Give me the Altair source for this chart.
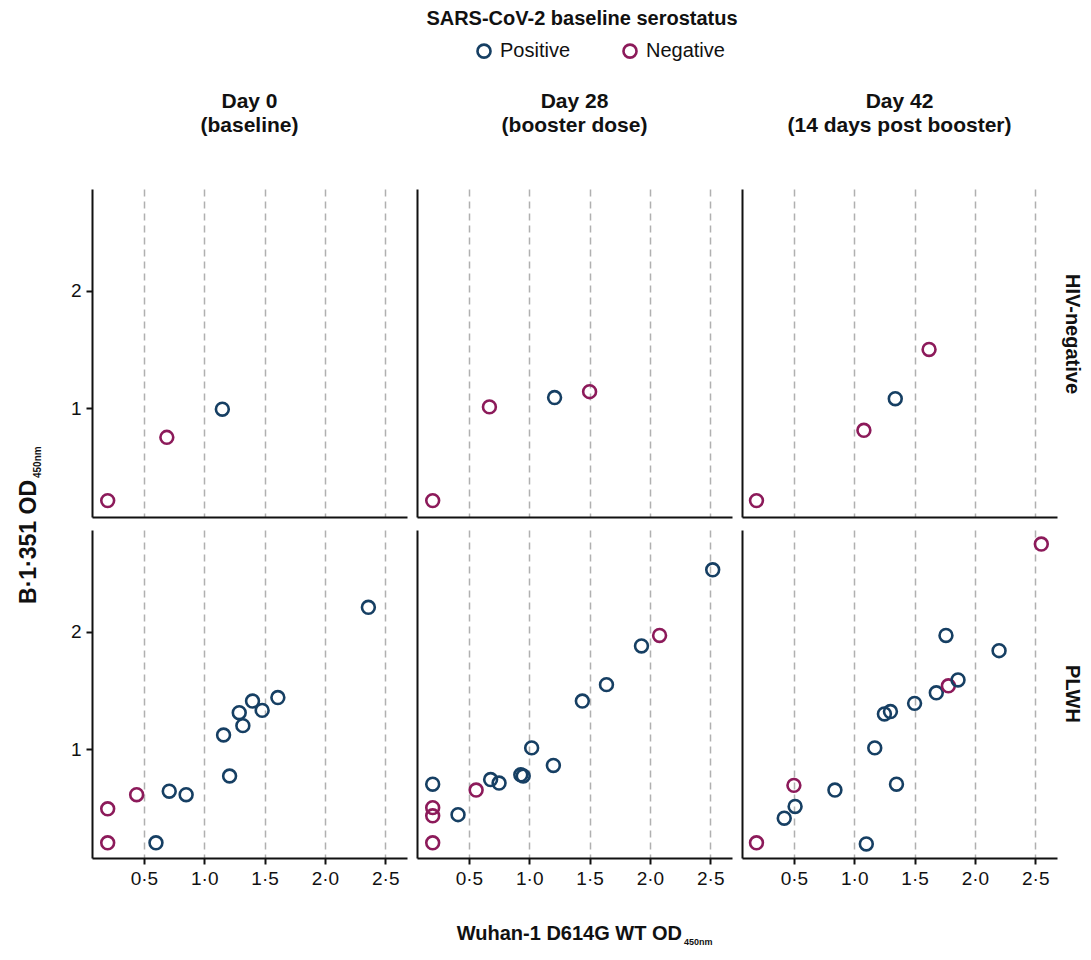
import altair as alt
import pandas as pd

# ---------------- data ----------------
days = ["Day 0", "Day 28", "Day 42"]
day_notes = ["(baseline)", "(booster dose)", "(14 days post booster)"]
groups = ["HIV-negative", "PLWH"]
statuses = ["Positive", "Negative"]
status_colors = ["#163f63", "#8c1a5a"]

# HIV-negative
hn_d0_x = [0.20, 0.69, 1.15]
hn_d0_y = [0.21, 0.75, 0.99]
hn_d0_s = ["Negative", "Negative", "Positive"]

hn_d28_x = [0.20, 0.67, 1.21, 1.50]
hn_d28_y = [0.21, 1.01, 1.09, 1.14]
hn_d28_s = ["Negative", "Negative", "Positive", "Negative"]

hn_d42_x = [0.19, 1.08, 1.34, 1.62]
hn_d42_y = [0.21, 0.81, 1.08, 1.50]
hn_d42_s = ["Negative", "Negative", "Positive", "Negative"]

# PLWH
pl_d0_x = [0.20, 0.20, 0.44, 0.60, 0.71, 0.85, 1.21, 1.16, 1.32, 1.29, 1.40, 1.48, 1.61, 2.36]
pl_d0_y = [0.20, 0.49, 0.61, 0.20, 0.64, 0.61, 0.77, 1.12, 1.20, 1.31, 1.41, 1.33, 1.44, 2.21]
pl_d0_s = ["Negative", "Negative", "Negative", "Positive", "Positive", "Positive", "Positive",
           "Positive", "Positive", "Positive", "Positive", "Positive", "Positive", "Positive"]

pl_d28_x = [0.20, 0.20, 0.20, 0.20, 0.41, 0.56, 0.68, 0.75, 0.93, 0.95, 1.02, 1.20, 1.44, 1.64, 1.93, 2.08, 2.52]
pl_d28_y = [0.70, 0.50, 0.43, 0.20, 0.44, 0.65, 0.74, 0.71, 0.78, 0.77, 1.01, 0.86, 1.41, 1.55, 1.88, 1.97, 2.53]
pl_d28_s = ["Positive", "Negative", "Negative", "Negative", "Positive", "Negative", "Positive", "Positive",
            "Positive", "Positive", "Positive", "Positive", "Positive", "Positive", "Positive", "Negative", "Positive"]

pl_d42_x = [0.19, 0.42, 0.51, 0.50, 0.84, 1.10, 1.17, 1.35, 1.25, 1.30, 1.50, 1.68, 1.78, 1.86, 1.76, 2.20, 2.55]
pl_d42_y = [0.20, 0.41, 0.51, 0.69, 0.65, 0.19, 1.01, 0.70, 1.30, 1.32, 1.39, 1.48, 1.54, 1.59, 1.97, 1.84, 2.75]
pl_d42_s = ["Negative", "Positive", "Positive", "Negative", "Positive", "Positive", "Positive", "Positive",
            "Positive", "Positive", "Positive", "Positive", "Negative", "Positive", "Positive", "Positive", "Negative"]

x_ticks = [0.5, 1.0, 1.5, 2.0, 2.5]
y_ticks = [1, 2]

panels_data = {
    ("HIV-negative", "Day 0"): (hn_d0_x, hn_d0_y, hn_d0_s),
    ("HIV-negative", "Day 28"): (hn_d28_x, hn_d28_y, hn_d28_s),
    ("HIV-negative", "Day 42"): (hn_d42_x, hn_d42_y, hn_d42_s),
    ("PLWH", "Day 0"): (pl_d0_x, pl_d0_y, pl_d0_s),
    ("PLWH", "Day 28"): (pl_d28_x, pl_d28_y, pl_d28_s),
    ("PLWH", "Day 42"): (pl_d42_x, pl_d42_y, pl_d42_s),
}

rows = []
for (g, d), (xs, ys, ss) in panels_data.items():
    for xv, yv, sv in zip(xs, ys, ss):
        rows.append({"group": g, "day": d, "wuhan": xv, "b1351": yv, "status": sv})
df = pd.DataFrame(rows)

# ---------------- layout ----------------
W, H = 315, 328
FONT = "Liberation Sans"
one = pd.DataFrame({"k": [0]})

xscale = alt.Scale(domain=[0.07, 2.68], nice=False, zero=False)
yscale = alt.Scale(domain=[0.07, 2.87], nice=False, zero=False)
color_scale = alt.Scale(domain=statuses, range=status_colors)
legend = alt.Legend(
    title=None, orient="none", legendX=382, legendY=-148, direction="horizontal",
    symbolType="circle", symbolSize=170, symbolStrokeWidth=2.6, symbolFillColor="transparent",
    labelFontSize=20, labelFont=FONT, labelColor="#111111", columnPadding=47, labelOffset=6,
)
label_expr = "replace(format(datum.value, '.1f'), '.', '·')"


def text_layer(text, x, y, size, bold=True, align="center", angle=0, dy=0, line_height=None):
    kw = dict(text=text, fontSize=size, font=FONT, fontWeight="bold" if bold else "normal",
              align=align, baseline="alphabetic", color="#111111")
    if angle:
        kw["angle"] = angle
    if dy:
        kw["dy"] = dy
    if line_height:
        kw["lineHeight"] = line_height
    return alt.Chart(one).mark_text(**kw).encode(x=alt.value(x), y=alt.value(y))


def panel(r, c):
    g = groups[r]
    d = days[c]
    bottom = r == 1
    left = c == 0
    xaxis = alt.Axis(
        values=x_ticks, labels=bottom, ticks=bottom, labelExpr=label_expr, title=None,
        grid=True, gridDash=[7, 5], gridColor="#b0b0b0", gridWidth=1.5,
        domainColor="#111111", domainWidth=2, tickColor="#111111", tickWidth=2, tickSize=6,
        labelFontSize=19, labelFont=FONT, labelColor="#111111", labelPadding=5,
    )
    yaxis = alt.Axis(
        values=y_ticks, labels=left, ticks=left, title=None, grid=False, format="d",
        domainColor="#111111", domainWidth=2, tickColor="#111111", tickWidth=2, tickSize=6,
        labelFontSize=19, labelFont=FONT, labelColor="#111111", labelPadding=5,
    )
    pts = alt.Chart(df).transform_filter(
        (alt.datum.group == g) & (alt.datum.day == d)
    ).mark_point(filled=False, size=165, strokeWidth=2.6, opacity=1).encode(
        x=alt.X("wuhan:Q", scale=xscale, axis=xaxis),
        y=alt.Y("b1351:Q", scale=yscale, axis=yaxis),
        color=alt.Color("status:N", scale=color_scale, legend=legend),
    )
    layers = [pts]
    if r == 0:
        layers.append(text_layer([d, day_notes[c]], W / 2, -81, 21, line_height=24))
    if c == 2:
        layers.append(text_layer(g, W + 9, H / 2 - (19 if r == 0 else 0), 20, angle=90))
    if r == 0 and c == 0:
        layers.append(text_layer("B·1·351 OD", -56, 291, 23, align="right", angle=270))
        layers.append(text_layer("450nm", -56, 289, 10, align="left", angle=270, dy=5))
    if r == 1 and c == 1:
        layers.append(text_layer("Wuhan-1 D614G WT OD", 265, 410, 20, align="right"))
        layers.append(text_layer("450nm", 267, 410, 9, align="left", dy=5))
    if r == 0 and c == 1:
        layers.append(text_layer("SARS-CoV-2 baseline serostatus", 165, -164, 20))
    return alt.layer(*layers).properties(width=W, height=H)


chart = alt.concat(
    *[panel(r, c) for r in range(2) for c in range(3)],
    columns=3, spacing={"row": 13, "column": 10}, bounds="flush",
).properties(
    padding={"left": 10, "top": 1, "right": 1, "bottom": -1}
).configure(font=FONT, background="white").configure_view(stroke=None)

chart.save("out.html", embed_options={"renderer": "svg", "actions": False})
